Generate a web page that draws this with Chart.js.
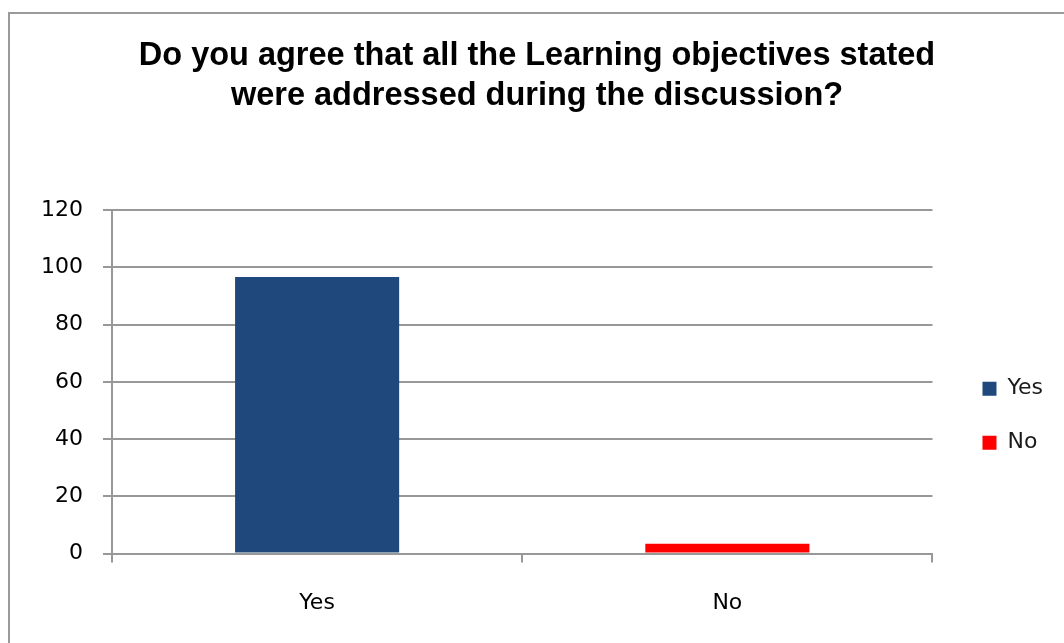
<!DOCTYPE html>
<html>
<head>
<meta charset="utf-8">
<script src="https://cdn.jsdelivr.net/npm/chart.js@4/dist/chart.umd.min.js"></script>
<style>
    html, body { margin: 0; padding: 0; background: #fff; overflow: hidden; }
    #frame { position: absolute; left: 8px; top: 12px; width: 1200px; height: 800px; border: 2px solid #9a9a9a; }
    #wrap { position: absolute; left: 0; top: 0; width: 1064px; height: 643px; }
</style>
</head>
<body>
<div id="frame"></div>
<div id="wrap"><canvas id="myChart" width="1064" height="643"></canvas></div>
<script>
const categories = ['Yes', 'No'];
const answerValues = [96.6, 3.4];
const barColors = ['#1f497d', '#ff0000'];
const yTicks = [0, 20, 40, 60, 80, 100, 120];
const chartTitle = ['Do you agree that all the Learning objectives stated', 'were addressed during the discussion?'];

const gridColor = '#989898';
const labelFont = { family: 'DejaVu Sans', size: 22 };

const ctx = document.getElementById('myChart').getContext('2d');

new Chart(ctx, {
    type: 'bar',
    data: {
        labels: categories,
        datasets: [{
            label: 'Responses',
            data: answerValues,
            backgroundColor: barColors,
            borderWidth: 0,
            categoryPercentage: 0.4,
            barPercentage: 1
        }]
    },
    options: {
        responsive: false,
        animation: false,
        layout: { padding: { top: 12, left: 21, right: 11, bottom: 0 } },
        plugins: {
            title: {
                display: true,
                text: chartTitle,
                color: '#000',
                font: { family: 'Liberation Sans', size: 32.5, weight: 'bold', lineHeight: '40px' },
                padding: { top: 24, bottom: 94 }
            },
            legend: {
                position: 'right',
                // empty title only pushes the items down
                title: { display: true, text: ' ', padding: 81 },
                labels: {
                    font: labelFont,
                    color: '#000',
                    boxWidth: 14,
                    boxHeight: 14,
                    padding: 32,
                    generateLabels: chart => categories.map((c, i) => ({
                        text: c,
                        fillStyle: barColors[i],
                        strokeStyle: barColors[i],
                        fontColor: '#1a1a1a',
                        lineWidth: 0,
                        index: i
                    }))
                }
            },
            tooltip: { enabled: false }
        },
        scales: {
            x: {
                offset: true,
                border: { color: gridColor, width: 2 },
                grid: { offset: true, drawOnChartArea: false, drawTicks: true, tickLength: 9, color: gridColor, lineWidth: 2 },
                ticks: { font: labelFont, color: '#000', padding: 27 }
            },
            y: {
                min: yTicks[0],
                max: yTicks[yTicks.length - 1],
                border: { color: gridColor, width: 2 },
                grid: { color: gridColor, lineWidth: 2, tickLength: 9 },
                afterBuildTicks: axis => { axis.ticks = yTicks.map(v => ({ value: v })); },
                ticks: { font: labelFont, color: '#000', padding: 20 }
            },
            // blank spacer between plot and legend
            gap: {
                type: 'linear',
                position: 'right',
                grid: { display: false, drawTicks: false },
                border: { display: false },
                ticks: { display: false },
                afterFit: scale => { scale.width = 18; }
            }
        }
    }
});
</script>
</body>
</html>
